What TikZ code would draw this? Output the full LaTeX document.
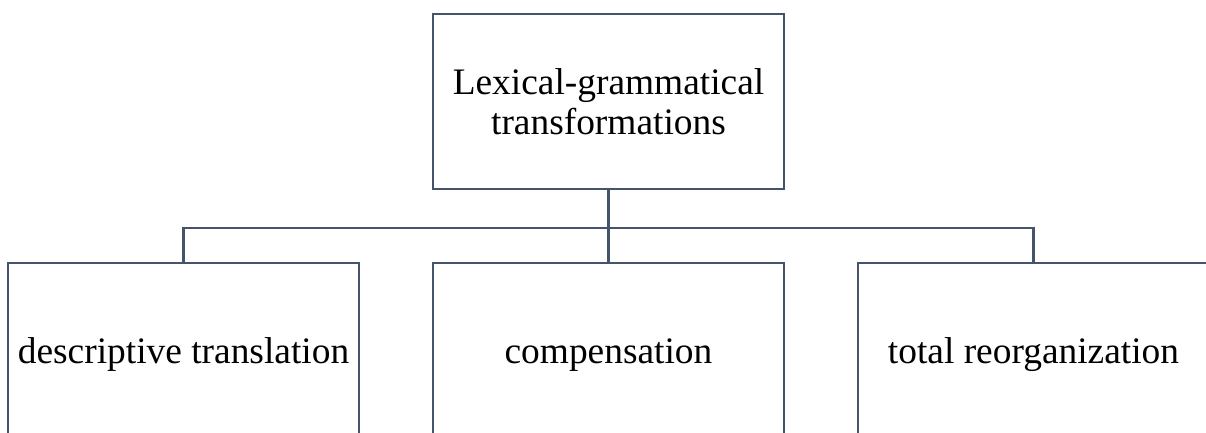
\documentclass[tikz,border=0pt]{standalone}
\usepackage{fontspec}
\setmainfont{Liberation Serif}
\definecolor{linec}{HTML}{44546A}
\begin{document}
\begin{tikzpicture}[x=0.5pt,y=-0.5pt,
  box/.style={draw=linec,line width=1.1pt,minimum width=175.5pt,minimum height=87.5pt,inner sep=0pt,align=center,font=\fontsize{18.7}{20}\selectfont,text=black},
  onebox/.style={box,text height=16.8pt,text depth=4.3pt},
  conn/.style={draw=linec,line width=1.1pt}]
\useasboundingbox (0,0) rectangle (1206,433);
\clip (0,0) rectangle (1206,433);
\node[box] (top) at (608.5,101.5) {Lexical-grammatical\\transformations};
\node[onebox] (left) at (183.5,350.5) {descriptive translation};
\node[onebox] (mid) at (608.5,350.5) {compensation};
\node[onebox] (right) at (1033.5,350.5) {total reorganization};
\coordinate (bus) at (608.5,228);
\draw[conn] (top.south) -- (mid.north);
\draw[conn] (left.north) |- (bus) -| (right.north);
\end{tikzpicture}
\end{document}
